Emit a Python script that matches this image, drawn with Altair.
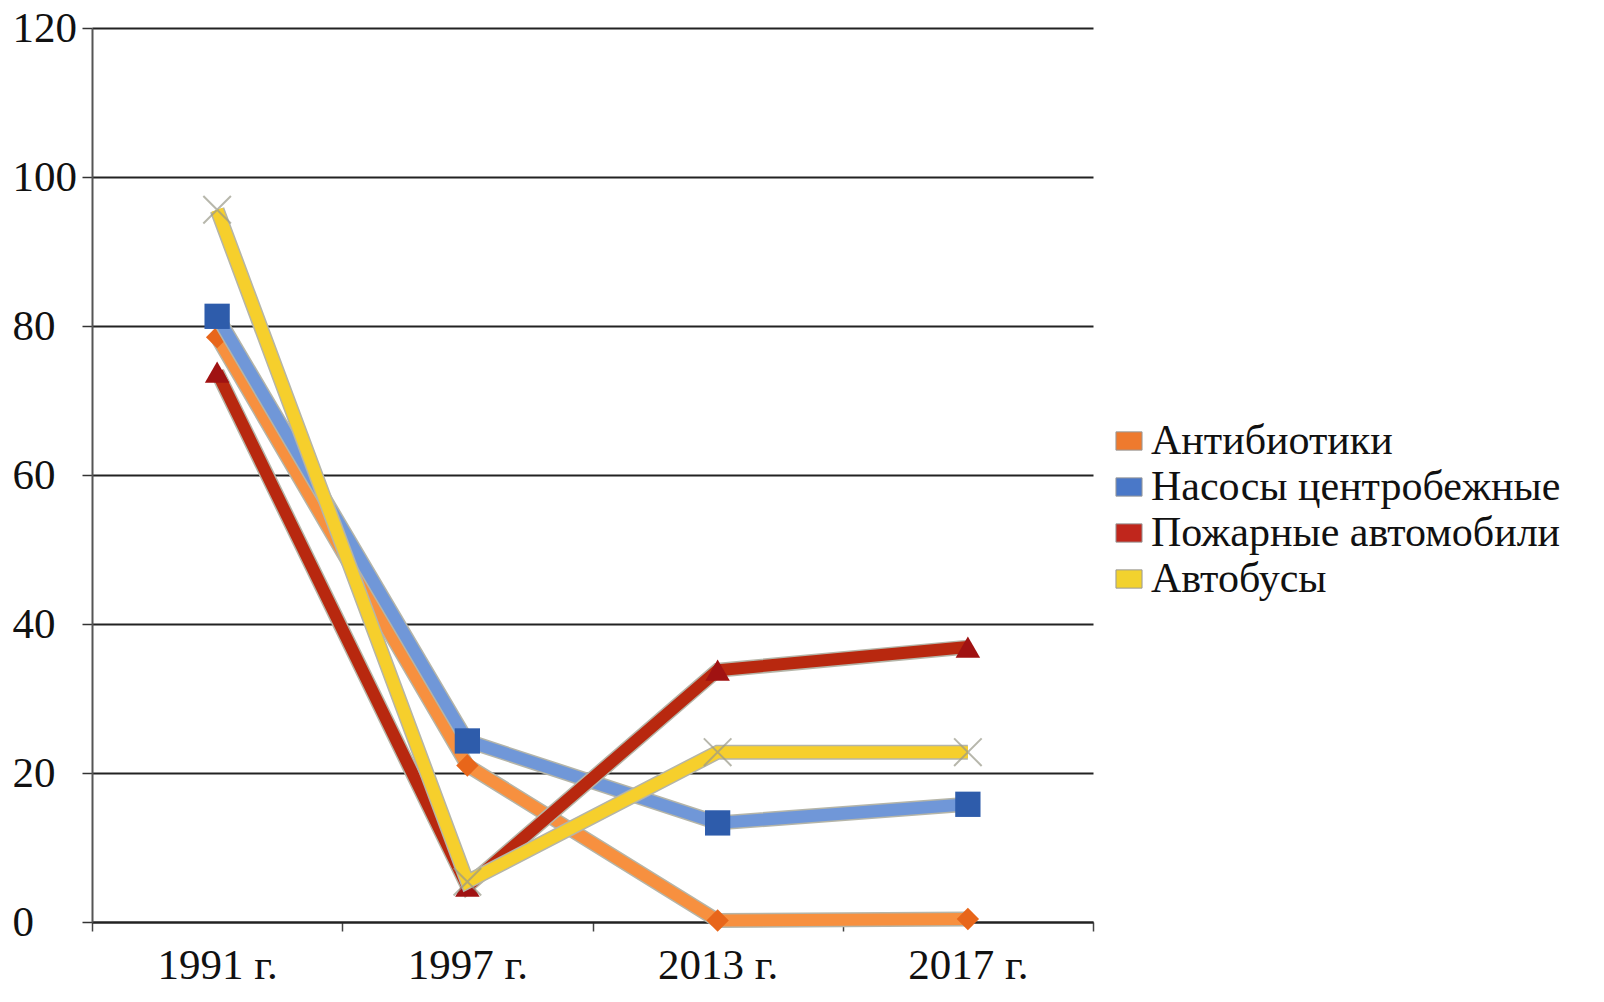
import altair as alt
import pandas as pd

years = ["1991 г.", "1997 г.", "2013 г.", "2017 г."]
series = ["Антибиотики", "Насосы центробежные", "Пожарные автомобили", "Автобусы"]
antibiotics = [78.5, 21.0, 0.2, 0.4]
pumps = [81.3, 24.3, 13.3, 15.8]
fire_trucks = [73.8, 4.8, 33.8, 36.9]
buses = [95.6, 5.4, 22.8, 22.8]

line_colors = ["#F7903F", "#7097D8", "#B8280F", "#F6CF2C"]
marker_colors = ["#E8661A", "#2E5CAB", "#A01212", "#9A9A8A"]
legend_colors = ["#EE7A2E", "#4A78C8", "#C0261C", "#F2D22E"]
shapes = ["diamond", "square", "triangle-up", "M-1,-1L1,1M1,-1L-1,1"]
marker_sizes = [500, 640, 600, 760]

values = [antibiotics, pumps, fire_trucks, buses]
rows = []
for s, vals in zip(series, values):
    for y, v in zip(years, vals):
        rows.append({"year": y, "series": s, "value": v})
df = pd.DataFrame(rows)

FONT = "Liberation Serif"

x_enc = alt.X("year:N", sort=years,
              scale=alt.Scale(domain=years, paddingInner=0, paddingOuter=0),
              axis=alt.Axis(title=None, tickBand="extent", labelAngle=0,
                            labelFont=FONT, labelFontSize=43, labelColor="#111",
                            labelPadding=13, tickSize=9, tickColor="#444",
                            tickWidth=1.5, domainColor="#222", domainWidth=2,
                            grid=False))
y_enc = alt.Y("value:Q",
              scale=alt.Scale(domain=[0, 120], nice=False, zero=True),
              axis=alt.Axis(title=None, values=[0, 20, 40, 60, 80, 100, 120],
                            labelFont=FONT, labelFontSize=43, labelColor="#111",
                            labelAlign="left", labelPadding=70,
                            tickSize=10, tickColor="#333",
                            tickWidth=1.5, domainColor="#555", domainWidth=2,
                            grid=True, gridColor="#222", gridWidth=2))

base = alt.Chart(df)
layers = []
for i, s in enumerate(series):
    sub = base.transform_filter(alt.datum.series == s)
    outline = sub.mark_line(strokeWidth=15, color="#B5B5A8", strokeJoin="miter",
                            strokeCap="butt").encode(x=x_enc, y=y_enc)
    line = sub.mark_line(strokeWidth=12, strokeJoin="miter", strokeCap="butt",
                         color=line_colors[i]).encode(x=x_enc, y=y_enc)
    if i == 3:
        pts = sub.mark_point(shape=shapes[i], size=marker_sizes[i], filled=False,
                             stroke=marker_colors[i], strokeWidth=2).encode(x=x_enc, y=y_enc)
    else:
        pts = sub.mark_point(shape=shapes[i], size=marker_sizes[i], filled=True,
                             color=marker_colors[i], opacity=1).encode(x=x_enc, y=y_enc)
    layers += [outline, line, pts]

legend_layer = base.mark_point(filled=True, opacity=0, size=1).encode(
    x=x_enc, y=y_enc,
    color=alt.Color("series:N",
                    scale=alt.Scale(domain=series, range=legend_colors),
                    sort=series,
                    legend=alt.Legend(title=None, orient="none",
                                      legendX=1016, legendY=392,
                                      symbolType="M-1,-0.7H1V0.7H-1Z",
                                      symbolSize=680, symbolOpacity=1,
                                      symbolStrokeColor="#999999",
                                      symbolStrokeWidth=1,
                                      labelFont=FONT, labelFontSize=42,
                                      labelColor="#111", labelOffset=1,
                                      rowPadding=4, labelLimit=600)))
layers.append(legend_layer)

chart = alt.layer(*layers).properties(
    width=1001, height=894,
    autosize=alt.AutoSizeParams(type="none"),
    padding={"left": 84, "top": 20, "right": 500, "bottom": 80},
    background="white",
).configure_view(stroke=None)

chart.save("out.html", embed_options={"renderer": "svg", "actions": False})
